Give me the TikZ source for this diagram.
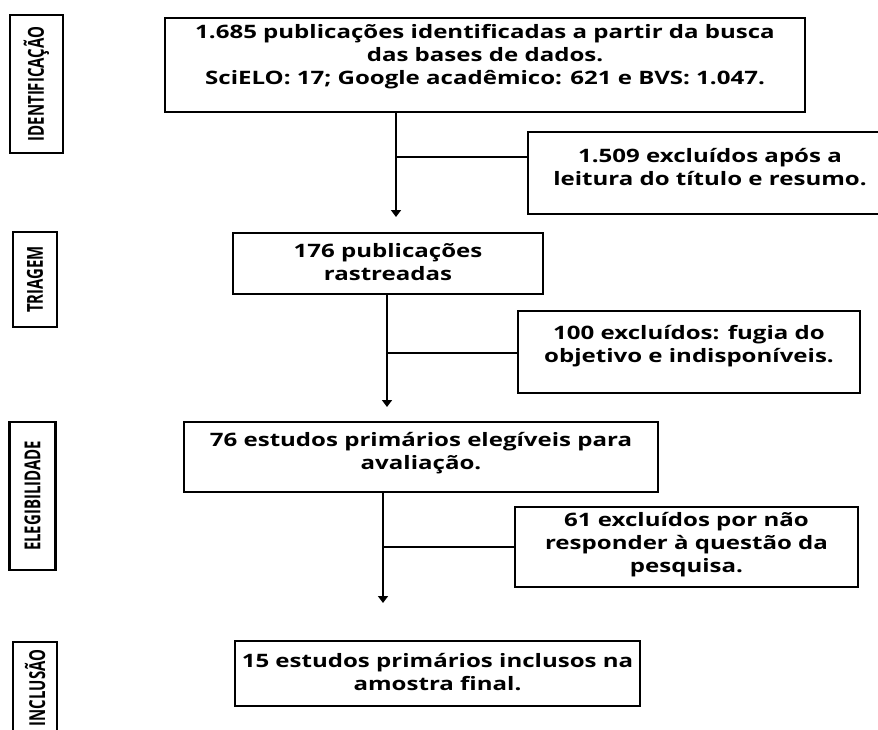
\documentclass[tikz,border=0pt]{standalone}
\usepackage{fontspec}
\setmainfont{Open Sans}[FakeStretch=1.3]
\newfontfamily\condfont[FakeStretch=0.68]{Open Sans}
\usetikzlibrary{arrows.meta}
\tikzset{
  box/.style={draw=black, line width=2.8pt, fill=white, inner sep=0pt},
  lab/.style={draw=black, line width=2.4pt, inner sep=0pt},
  labtxt/.style={rotate=90, font=\condfont\bfseries\fontsize{22}{24}\selectfont, inner sep=0pt},
  txt/.style={align=center, font=\bfseries\fontsize{18.5}{23}\selectfont, inner sep=0pt},
  stem/.style={line width=2.4pt, -{Triangle[width=10pt,length=7pt]}},
  branch/.style={line width=1.8pt}
}
\begin{document}
\begin{tikzpicture}[x=1pt,y=-1pt]
\useasboundingbox (0,0) rectangle (878,729);
% phase labels
\node[lab, minimum width=53, minimum height=138] (l1) at (36.5,84) {};
\node[labtxt] at (l1.center) {IDENTIFICAÇÃO};
\node[lab, minimum width=44, minimum height=95] (l2) at (35,279.5) {};
\node[labtxt] at (l2.center) {TRIAGEM};
\node[lab, minimum width=46, minimum height=148] (l3) at (32.5,496) {};
\node[labtxt] at (l3.center) {ELEGIBILIDADE};
\node[lab, minimum width=44, minimum height=120] (l4) at (35,702) {};
\node[labtxt] (l4t) at (35,688) {INCLUSÃO};
% main boxes
\node[box, minimum width=640, minimum height=94] (b1) at (485,65) {};
\node[txt] (t1) at (485,57) {1.685 publicações identificadas a partir da busca\\das bases de dados.\\SciELO: 17; Google acadêmico: 621 e BVS: 1.047.};
\node[box, minimum width=352, minimum height=82] (b2) at (704,173) {};
\node[txt] (t2) at (710,167) {1.509 excluídos após a\\leitura do título e resumo.};
\node[box, minimum width=310, minimum height=61] (b3) at (388,263.5) {};
\node[txt] (t3) at (388,262) {176 publicações\\rastreadas};
\node[box, minimum width=342, minimum height=82] (b4) at (689,352) {};
\node[txt] (t4) at (689,346) {100 excluídos: fugia do\\objetivo e indisponíveis.};
\node[box, minimum width=474, minimum height=70] (b5) at (421,457) {};
\node[txt] (t5) at (421,453) {76 estudos primários elegíveis para\\avaliação.};
\node[box, minimum width=343, minimum height=80] (b6) at (686.5,547) {};
\node[txt] (t6) at (686.5,545) {61 excluídos por não\\responder à questão da\\pesquisa.};
\node[box, minimum width=405, minimum height=65] (b7) at (437.5,673.5) {};
\node[txt] (t7) at (437.5,672) {15 estudos primários inclusos na\\amostra final.};
% connectors
\coordinate (a1) at (396,217);
\coordinate (j1) at (396,157);
\draw[stem] (b1.south -| a1) -- (a1);
\draw[branch] (j1) -- (j1 -| b2.west);
\coordinate (a2) at (387,407);
\coordinate (j2) at (387,353);
\draw[stem] (b3.south -| a2) -- (a2);
\draw[branch] (j2) -- (j2 -| b4.west);
\coordinate (a3) at (383,603);
\coordinate (j3) at (383,547);
\draw[stem] (b5.south -| a3) -- (a3);
\draw[branch] (j3) -- (j3 -| b6.west);
\end{tikzpicture}
\end{document}
